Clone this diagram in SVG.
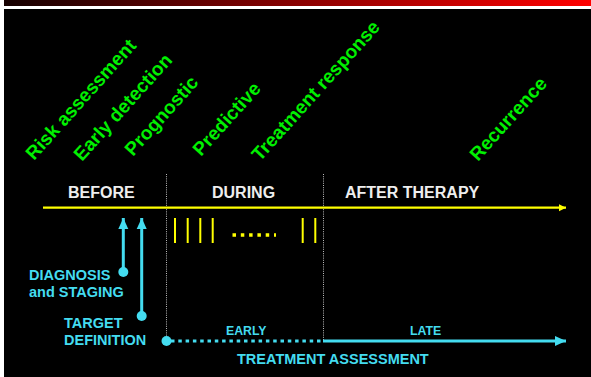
<svg xmlns="http://www.w3.org/2000/svg" width="591" height="377" viewBox="0 0 591 377">
<defs>
<linearGradient id="topbar" x1="0" y1="0" x2="1" y2="0">
<stop offset="0" stop-color="#150000"/>
<stop offset="0.5" stop-color="#8a0000"/>
<stop offset="1" stop-color="#ff0000"/>
</linearGradient>
<marker id="yArrow" markerWidth="8" markerHeight="8" refX="7" refY="4" orient="auto" markerUnits="userSpaceOnUse">
<path d="M0,0.5 L7,4 L0,7.5 Z" fill="#ffff00"/>
</marker>
<marker id="cArrow" markerWidth="12" markerHeight="12" refX="11" refY="6" orient="auto" markerUnits="userSpaceOnUse">
<path d="M0,1 L11,6 L0,11 Z" fill="#44dcf0"/>
</marker>
</defs>
<style>
.g{font-family:"Liberation Sans",Arial,sans-serif;font-weight:bold;font-size:19px;fill:#00f000}
.w{font-family:"Liberation Sans",Arial,sans-serif;font-weight:bold;font-size:16px;fill:#eeeeee}
.c{font-family:"Liberation Sans",Arial,sans-serif;font-weight:bold;font-size:14.5px;fill:#44dcf0}
.cs{font-family:"Liberation Sans",Arial,sans-serif;font-weight:bold;font-size:12.3px;fill:#44dcf0}
.sep{stroke:#bbbbbb;stroke-width:1;stroke-dasharray:1 1.2;fill:none}
.tick{stroke:#ffff00;stroke-width:2}
.cy{stroke:#44dcf0;stroke-width:3;fill:none}
</style>
<rect x="0" y="0" width="591" height="377" fill="#ffffff"/>
<rect x="4" y="0" width="587" height="6" fill="url(#topbar)"/>
<rect x="4" y="9" width="587" height="368" fill="#000000"/>

<g id="category-labels">
<text class="g" transform="translate(34,161) rotate(-48)">Risk assessment</text>
<text class="g" transform="translate(82,162) rotate(-48)">Early detection</text>
<text class="g" transform="translate(133,157) rotate(-48)">Prognostic</text>
<text class="g" transform="translate(201,157) rotate(-48)">Predictive</text>
<text class="g" transform="translate(260,162) rotate(-48)">Treatment response</text>
<text class="g" transform="translate(478,162) rotate(-48)">Recurrence</text>
</g>

<g id="phase-labels">
<text class="w" x="68" y="198">BEFORE</text>
<text class="w" x="212" y="198">DURING</text>
<text class="w" x="345" y="198">AFTER THERAPY</text>
</g>

<g id="separators">
<line class="sep" x1="166.5" y1="174" x2="166.5" y2="340"/>
<line class="sep" x1="323.5" y1="174" x2="323.5" y2="340"/>
</g>

<g id="connectors">
<line x1="43" y1="207.7" x2="566" y2="207.7" stroke="#ffff00" stroke-width="2.2" marker-end="url(#yArrow)"/>
<line class="cy" x1="123.3" y1="272" x2="123.3" y2="218" marker-end="url(#cArrow)"/>
<line class="cy" x1="141.7" y1="316" x2="141.7" y2="218" marker-end="url(#cArrow)"/>
<line class="cy" x1="171" y1="341" x2="323" y2="341" stroke-dasharray="3.5 3.8"/>
<line class="cy" x1="323" y1="341" x2="566" y2="341" marker-end="url(#cArrow)"/>
</g>

<g id="therapy-cycles">
<line class="tick" x1="175" y1="218" x2="175" y2="243"/>
<line class="tick" x1="187.7" y1="218" x2="187.7" y2="243"/>
<line class="tick" x1="200.3" y1="218" x2="200.3" y2="243"/>
<line class="tick" x1="212.7" y1="218" x2="212.7" y2="243"/>
<line x1="232.5" y1="235" x2="276" y2="235" stroke="#ffff00" stroke-width="3.5" stroke-dasharray="3.5 4.8"/>
<line class="tick" x1="302.7" y1="218" x2="302.7" y2="243"/>
<line class="tick" x1="315.3" y1="218" x2="315.3" y2="243"/>
</g>

<g id="diagnosis">
<circle cx="123.3" cy="272" r="5" fill="#44dcf0"/>
<text class="c" x="29" y="280">DIAGNOSIS</text>
<text class="c" x="29" y="297">and STAGING</text>
</g>

<g id="target">
<circle cx="141.7" cy="316" r="5" fill="#44dcf0"/>
<text class="c" x="64" y="328">TARGET</text>
<text class="c" x="64" y="345">DEFINITION</text>
</g>

<g id="assessment">
<circle cx="166.5" cy="341" r="5" fill="#44dcf0"/>
<text class="cs" x="226" y="335">EARLY</text>
<text class="cs" x="410" y="335">LATE</text>
<text class="c" x="237" y="364">TREATMENT ASSESSMENT</text>
</g>
</svg>
